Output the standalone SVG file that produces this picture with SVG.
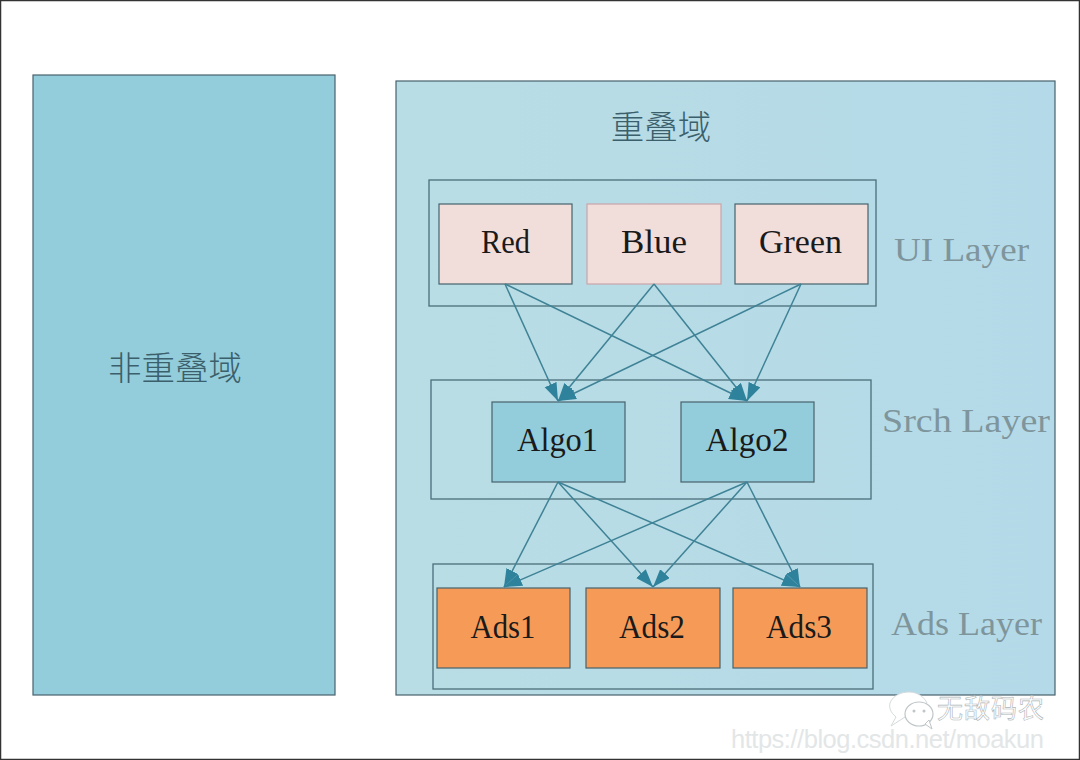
<svg xmlns="http://www.w3.org/2000/svg" width="1080" height="760" viewBox="0 0 1080 760">
<style>
.r{stroke:#46626c;stroke-width:1.2}
.lay{fill:url(#g);stroke:#4a6f7a;stroke-width:1.3}
.pink{fill:#f1dedb}
.teal{fill:#93cddc}
.orange{fill:#f69b57}
.t{font-family:"Liberation Serif",serif;font-size:34px;fill:#1a1a1a;text-anchor:middle}
.l{font-family:"Liberation Serif",serif;font-size:34px;fill:#7f959c}
.c{font-family:"Noto Sans CJK SC",sans-serif;font-size:33.5px;font-weight:300;fill:#3b5f6b;text-anchor:middle}
.a{stroke:#3f8296;stroke-width:1.5;fill:none;marker-end:url(#h)}
</style>
<defs>
<linearGradient id="g" gradientUnits="userSpaceOnUse" x1="396" y1="0" x2="1055" y2="0"><stop offset="0" stop-color="#b9dde4"/><stop offset="1" stop-color="#b4dae9"/></linearGradient>
<marker id="h" markerUnits="userSpaceOnUse" markerWidth="20" markerHeight="14" refX="18" refY="6.5" orient="auto"><path d="M0 0L18 6.5L0 13z" fill="#2f829b"/></marker>
</defs>
<rect x="0.5" y="0.5" width="1079" height="759" fill="#fff" stroke="#333" stroke-width="1.5"/>
<g id="non-overlap"><rect class="r" x="33" y="75" width="302" height="620" fill="#93cddb"/><text class="c" x="175" y="380">非重叠域</text></g>
<g id="overlap"><rect class="r" x="396" y="81" width="659" height="614" fill="url(#g)"/><text class="c" x="661" y="139">重叠域</text></g>
<g id="ui-layer"><rect class="lay" x="429" y="180" width="447" height="126"/><text class="l" x="894" y="261" textLength="135" lengthAdjust="spacingAndGlyphs">UI Layer</text></g>
<g id="srch-layer"><rect class="lay" x="431" y="380" width="440" height="119"/><text class="l" x="882" y="432" textLength="168" lengthAdjust="spacingAndGlyphs">Srch Layer</text></g>
<g id="ads-layer"><rect class="lay" x="433" y="564" width="440" height="125"/><text class="l" x="891" y="635" textLength="151" lengthAdjust="spacingAndGlyphs">Ads Layer</text></g>
<g id="red"><rect class="r pink" x="439" y="204" width="133" height="80"/><text class="t" x="505.5" y="253" textLength="49" lengthAdjust="spacingAndGlyphs">Red</text></g>
<g id="blue"><rect class="pink" stroke="#c9a5a8" stroke-width="1.2" x="587" y="204" width="134" height="80"/><text class="t" x="654" y="253" textLength="66" lengthAdjust="spacingAndGlyphs">Blue</text></g>
<g id="green"><rect class="r pink" x="735" y="204" width="133" height="80"/><text class="t" x="800.5" y="253" textLength="83" lengthAdjust="spacingAndGlyphs">Green</text></g>
<g id="algo1"><rect class="r teal" x="492" y="402" width="133" height="80"/><text class="t" x="557.5" y="451" textLength="81" lengthAdjust="spacingAndGlyphs">Algo1</text></g>
<g id="algo2"><rect class="r teal" x="681" y="402" width="133" height="80"/><text class="t" x="747" y="451" textLength="83" lengthAdjust="spacingAndGlyphs">Algo2</text></g>
<g id="ads1"><rect class="r orange" x="437" y="588" width="133" height="80"/><text class="t" x="503" y="638" textLength="65" lengthAdjust="spacingAndGlyphs">Ads1</text></g>
<g id="ads2"><rect class="r orange" x="586" y="588" width="134" height="80"/><text class="t" x="652" y="638" textLength="66" lengthAdjust="spacingAndGlyphs">Ads2</text></g>
<g id="ads3"><rect class="r orange" x="733" y="588" width="134" height="80"/><text class="t" x="799" y="638" textLength="66" lengthAdjust="spacingAndGlyphs">Ads3</text></g>
<g id="connectors">
<path class="a" d="M505 284L558 401"/><path class="a" d="M505 284L747 401"/>
<path class="a" d="M654 284L558 401"/><path class="a" d="M654 284L747 401"/>
<path class="a" d="M801 284L558 401"/><path class="a" d="M801 284L747 401"/>
<path class="a" d="M558 482L504 587"/><path class="a" d="M558 482L653 587"/><path class="a" d="M558 482L800 587"/>
<path class="a" d="M747 482L504 587"/><path class="a" d="M747 482L653 587"/><path class="a" d="M747 482L800 587"/>
</g>
<g id="watermark">
<path d="M891 726L896 717C890 712 889 707 890 703C893 695 902 692 909 692C918 692 924 697 927 703Z" fill="#fff" stroke="#d5dadc" stroke-width="1"/>
<ellipse cx="919" cy="714" rx="14" ry="12" fill="#fff" stroke="#bfc6c8" stroke-width="1.2"/>
<path d="M925 724L932 729L929 720Z" fill="#fff" stroke="#bfc6c8" stroke-width="1"/>
<circle cx="914" cy="711" r="1.5" fill="#bfc6c8"/><circle cx="924" cy="711" r="1.5" fill="#bfc6c8"/>
<text x="937" y="717.5" font-family="Noto Sans CJK SC,sans-serif" font-size="26" fill="#fff" stroke="#aeb6b8" stroke-width="0.6" textLength="107">无敌码农</text>
<text x="731" y="748" font-family="Liberation Sans,sans-serif" font-size="25.5" fill="#e3e6e7" textLength="313">https://blog.csdn.net/moakun</text>
</g>
</svg>
